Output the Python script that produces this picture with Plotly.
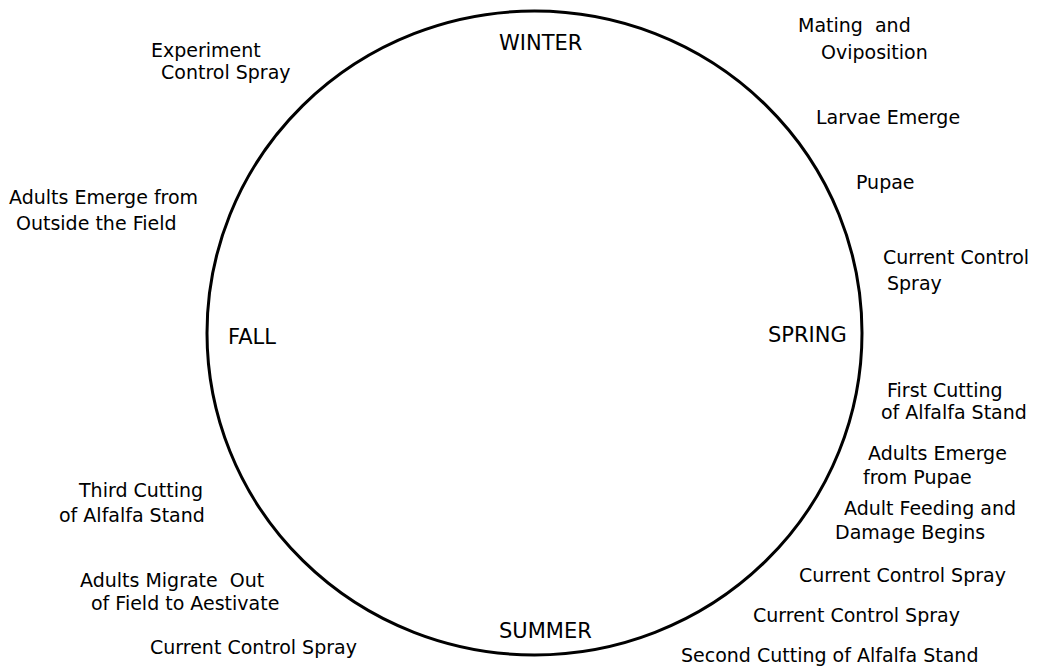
import plotly.graph_objects as go

# ---------------- data: the annual life cycle ----------------
seasons = ["WINTER", "SPRING", "SUMMER", "FALL"]

event_lines = [
    "Experiment", "Control Spray",
    "Adults Emerge from", "Outside the Field",
    "Third Cutting", "of Alfalfa Stand",
    "Adults Migrate  Out", "of Field to Aestivate",
    "Current Control Spray",
    "Mating  and", "Oviposition",
    "Larvae Emerge",
    "Pupae",
    "Current Control", "Spray",
    "First Cutting", "of Alfalfa Stand",
    "Adults Emerge", "from Pupae",
    "Adult Feeding and", "Damage Begins",
    "Current Control Spray",
    "Current Control Spray",
    "Second Cutting of Alfalfa Stand",
]

# ---------------- layout (pixel positions on the page) ----------------
W, H = 1053, 670
cycle_box = dict(x0=207, x1=862, y0=11, y1=655)

season_pos = {  # (x, y, xanchor)
    "WINTER": (540, 43, "center"),
    "SPRING": (849, 335, "right"),
    "SUMMER": (545, 631, "center"),
    "FALL": (226, 337, "left"),
}

event_pos = [  # left edge x, centre y
    (150, 50), (160, 72),
    (8, 197), (15, 223),
    (77, 490), (58, 515),
    (79, 580), (90, 603),
    (149, 647),
    (797, 25), (820, 52),
    (815, 117),
    (855, 182),
    (882, 257), (886, 283),
    (886, 390), (880, 412),
    (867, 453), (862, 477),
    (843, 508), (834, 532),
    (798, 575),
    (752, 615),
    (680, 655),
]

FONT = "DejaVu Sans"
fig = go.Figure()

fig.add_shape(type="circle", xref="x", yref="y", line=dict(color="black", width=3),
              **cycle_box)

for s in seasons:
    x, y, xa = season_pos[s]
    fig.add_annotation(x=x, y=y, text=s, showarrow=False, xanchor=xa, yanchor="middle",
                       font=dict(family=FONT, size=21, color="black"))

for txt, (x, y) in zip(event_lines, event_pos):
    fig.add_annotation(x=x, y=y, text=txt, showarrow=False, xanchor="left", yanchor="middle",
                       borderpad=0,
                       font=dict(family=FONT, size=19, color="black"))

fig.update_xaxes(range=[0, W], visible=False, fixedrange=True)
fig.update_yaxes(range=[H, 0], visible=False, fixedrange=True)
fig.update_layout(width=W, height=H, margin=dict(l=0, r=0, t=0, b=0),
                  paper_bgcolor="white", plot_bgcolor="white", showlegend=False)

fig.write_html("out.html", config={"displayModeBar": False},
               post_script="document.body.style.margin='0';")
